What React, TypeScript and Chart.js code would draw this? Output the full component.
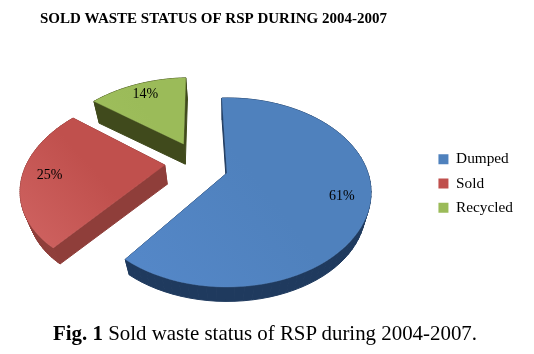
import React, { useEffect, useRef } from "react";
import { Chart, registerables } from "chart.js";

Chart.register(...registerables);

const categories = ["Dumped", "Sold", "Recycled"];
const shares = [61, 25, 14];
const titleText = "SOLD WASTE STATUS OF RSP DURING 2004-2007";
const topColors = ["#4F81BD", "#C0504D", "#9BBB59"];
const topLightColors = ["#5588C9", "#D06462", "#9FBF5C"];
const sideColors = ["#1F3A5E", "#8F3E3A", "#404A1C"];

const SERIF = '"Liberation Serif", "DejaVu Serif", serif';

// Perspective view of the pie's unit disc
const CX = 227;
const CY = 173;
const SCALE_X = 141;
const SCALE_Y = 90.5;
const TILT = 0.206;
const DEPTH = 19;
const DEPTH_SHRINK = 0.96;
const EXPLODE: [number, number][] = [
  [0, 0],
  [-0.45, -0.09],
  [-0.33, -0.343],
];

function project(u: number, v: number): [number, number] {
  const d = 1 - TILT * v;
  return [CX + (SCALE_X * u) / d, CY + (SCALE_Y * v) / d];
}
function lower(p: [number, number]): [number, number] {
  return [
    CX + (p[0] - CX) * DEPTH_SHRINK,
    CY + (p[1] - CY) * DEPTH_SHRINK + DEPTH,
  ];
}
function fillPoly(ctx: CanvasRenderingContext2D, pts: [number, number][], fill: any, width: number) {
  ctx.beginPath();
  pts.forEach((p, i) => (i ? ctx.lineTo(p[0], p[1]) : ctx.moveTo(p[0], p[1])));
  ctx.closePath();
  ctx.fillStyle = fill;
  ctx.strokeStyle = fill;
  ctx.lineWidth = width;
  ctx.fill();
  ctx.stroke();
}

const pie3d = {
  id: "pie3d",
  beforeDatasetDraw(chart: any, args: any) {
    const ctx: CanvasRenderingContext2D = chart.ctx;
    const arcs = chart.getDatasetMeta(args.index).data;
    arcs.forEach((arc: any, i: number) => {
      const [ox, oy] = EXPLODE[i];
      const steps = 72;
      const top: [number, number][] = [project(ox, oy)];
      for (let s = 0; s <= steps; s++) {
        const a = arc.startAngle + ((arc.endAngle - arc.startAngle) * s) / steps;
        top.push(project(ox + Math.cos(a), oy + Math.sin(a)));
      }
      const quads = top.map((p, k) => {
        const q = top[(k + 1) % top.length];
        return [p, q, lower(q), lower(p)] as [number, number][];
      });
      quads.sort((a, b) => a[0][1] + a[1][1] - (b[0][1] + b[1][1]));
      quads.forEach((q) => fillPoly(ctx, q, sideColors[i], 1));

      const xs = top.map((p) => p[0]);
      const ys = top.map((p) => p[1]);
      const g = ctx.createLinearGradient(
        Math.max(...xs),
        Math.min(...ys),
        Math.min(...xs),
        Math.max(...ys)
      );
      g.addColorStop(0.45, arc.options.backgroundColor);
      g.addColorStop(1, topLightColors[i]);
      fillPoly(ctx, top, g, 0.4);
    });

    ctx.fillStyle = "#000";
    ctx.font = `14px ${SERIF}`;
    ctx.textAlign = "center";
    ctx.textBaseline = "middle";
    arcs.forEach((arc: any, i: number) => {
      const [ox, oy] = EXPLODE[i];
      const mid = (arc.startAngle + arc.endAngle) / 2;
      const [x, y] = project(ox + 0.81 * Math.cos(mid), oy + 0.81 * Math.sin(mid));
      ctx.fillText(`${shares[i]}%`, x, y);
    });
    return false;
  },
};

export default function App() {
  const ref = useRef<HTMLCanvasElement>(null);
  useEffect(() => {
    const chart = new Chart(ref.current!, {
      type: "pie",
      data: {
        labels: categories,
        datasets: [{ data: shares, backgroundColor: topColors, borderWidth: 0 }],
      },
      options: {
        responsive: false,
        animation: false,
        rotation: -2.5,
        layout: { padding: { left: 40, right: 11, top: 10, bottom: 34 } },
        plugins: {
          title: {
            display: true,
            text: titleText,
            align: "start",
            color: "#000",
            font: { family: SERIF, size: 15, weight: "bold" },
            padding: { top: 0, bottom: 19 },
          },
          legend: {
            position: "right",
            fullSize: false,
            labels: {
              color: "#000",
              boxWidth: 10,
              boxHeight: 10,
              padding: 9,
              font: { family: SERIF, size: 15.3 },
            },
          },
          tooltip: { enabled: false },
        },
      },
      plugins: [pie3d],
    } as any);
    return () => chart.destroy();
  }, []);
  return (
    <div style={{ position: "fixed", left: 0, top: 0, width: 534, height: 354, background: "#fff" }}>
      <canvas ref={ref} width={534} height={354} style={{ display: "block" }} />
      <div
        style={{
          position: "absolute",
          left: 53,
          top: 322,
          whiteSpace: "nowrap",
          fontFamily: SERIF,
          fontSize: 20.9,
          lineHeight: "22px",
          color: "#000",
        }}
      >
        <b>Fig. 1</b> Sold waste status of RSP during 2004-2007.
      </div>
    </div>
  );
}
